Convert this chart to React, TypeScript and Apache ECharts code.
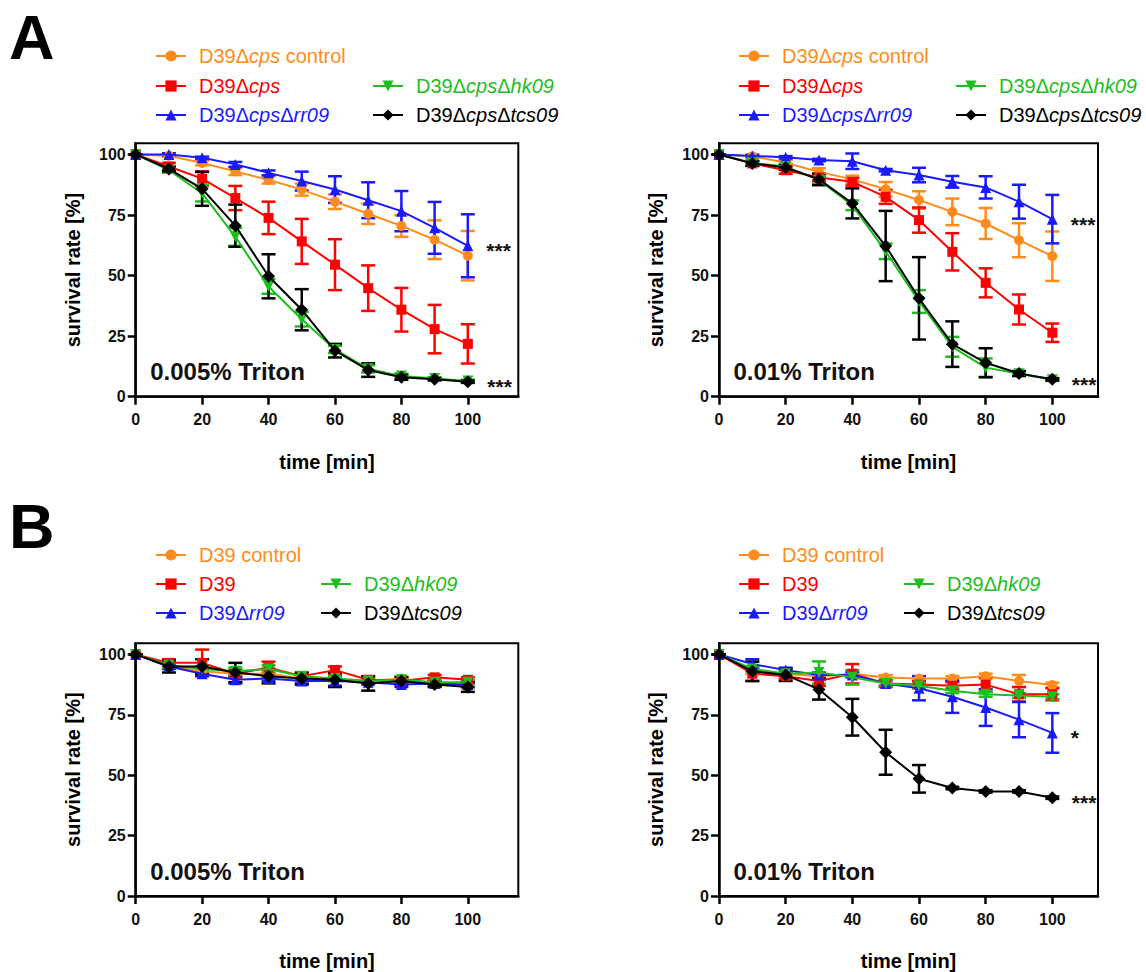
import React, { useEffect, useRef } from "react";
import * as echarts from "echarts";

const FONT = 'Arial, "Liberation Sans", Helvetica, sans-serif';

const times = [0, 10, 20, 30, 40, 50, 60, 70, 80, 90, 100];
const xTicks = [0, 20, 40, 60, 80, 100];
const yTicks = [0, 25, 50, 75, 100];

// series order: control (orange), parent (red), Δrr09 (blue), Δhk09 (green), Δtcs09 (black)
const namesA = ["D39Δcps control", "D39Δcps", "D39ΔcpsΔrr09", "D39ΔcpsΔhk09", "D39ΔcpsΔtcs09"];
const namesB = ["D39 control", "D39", "D39Δrr09", "D39Δhk09", "D39Δtcs09"];
const labelPartsA = [
  [["D39Δ", "n"], ["cps", "i"], [" control", "n"]],
  [["D39Δ", "n"], ["cps", "i"]],
  [["D39Δ", "n"], ["cps", "i"], ["Δ", "n"], ["rr09", "i"]],
  [["D39Δ", "n"], ["cps", "i"], ["Δ", "n"], ["hk09", "i"]],
  [["D39Δ", "n"], ["cps", "i"], ["Δ", "n"], ["tcs09", "i"]],
];
const labelPartsB = [
  [["D39 control", "n"]],
  [["D39", "n"]],
  [["D39Δ", "n"], ["rr09", "i"]],
  [["D39Δ", "n"], ["hk09", "i"]],
  [["D39Δ", "n"], ["tcs09", "i"]],
];
const colors = ["#FF8C1A", "#FF0000", "#1A1AFF", "#1DBE1D", "#000000"];
const symbols = ["circle", "rect", "triangle", "path://M0 0 L2 0 L1 1.732 Z", "diamond"];
const symbolSizes = [10, 10, 11, 11, 13];

// Panel A, 0.005% Triton
const a1Means = [
  [100, 99.5, 96.5, 93, 89.5, 85.5, 80.5, 75.5, 70.5, 64.8, 58.2],
  [100, 95, 90, 82, 73.8, 64.1, 54.5, 44.8, 35.9, 27.9, 21.8],
  [100, 100, 98.6, 95.9, 92.4, 89, 85.5, 81.1, 76.6, 69.7, 62.3],
  [100, 93.5, 84, 66, 45.5, 32, 19.5, 11.5, 8.5, 7.5, 6.5],
  [100, 94, 85.8, 70.6, 49.7, 35.9, 19, 11, 8, 7.2, 6.2],
];
const a1Errs = [
  [0, 0.5, 1, 1.5, 1.5, 2.5, 3, 4.2, 4.5, 8, 10.2],
  [0, 1.5, 3, 5, 6.7, 9.3, 10.5, 9.4, 9, 10, 8.1],
  [0, 0.5, 0.5, 1, 1, 3.9, 5.5, 7.4, 8.3, 10.7, 13],
  [0, 1, 3.4, 3.7, 3, 3, 1.5, 1.5, 1, 0.5, 0.5],
  [0, 1, 7, 8.7, 9.1, 8.5, 2.8, 2.8, 1, 0.5, 0.5],
];
const a1Sig = ["", "", "***", "", "***"];

// Panel A, 0.01% Triton
const a2Means = [
  [100, 99.3, 96.6, 92.8, 89.7, 85.6, 81.2, 76.3, 71.5, 64.6, 58],
  [100, 96.3, 93.5, 90.5, 88.7, 82.5, 72.9, 59.8, 47, 36, 26.4],
  [100, 99.4, 98.8, 97.7, 97.2, 93.5, 91.5, 88.7, 86.4, 80.5, 73.3],
  [100, 96.5, 95, 89.5, 79, 60, 39.3, 20.6, 12, 9.5, 7],
  [100, 96.3, 94.6, 89.7, 79.8, 62.2, 40.6, 21.7, 14, 9.6, 7.2],
];
const a2Errs = [
  [0, 0.5, 1, 1.5, 1.5, 3, 3.6, 5.5, 6.4, 7, 10.2],
  [0, 1, 1.5, 1.5, 1.5, 2.9, 5.2, 7.7, 6, 6.2, 3.8],
  [0, 0.5, 0.5, 0.5, 3.2, 0.5, 3, 2.4, 4.6, 7, 10],
  [0, 0.5, 1, 1.5, 2, 3.2, 4.7, 4.1, 3.8, 1, 0.5],
  [0, 1, 1, 2.4, 6.2, 14.5, 17, 9.4, 6, 1, 0.5],
];
const a2Sig = ["", "", "***", "", "***"];

// Panel B, 0.005% Triton
const b1Means = [
  [100, 95, 93, 92, 92, 90, 90, 89, 90, 88, 87],
  [100, 96.5, 96.5, 92, 94.5, 91, 93.5, 89.5, 89, 90.5, 89.5],
  [100, 95, 92, 89.5, 90, 89, 89, 88.5, 87.5, 88, 87.5],
  [100, 95.5, 94, 93, 94, 91, 90, 89, 89.5, 88.5, 88.5],
  [100, 95, 95, 92.5, 91, 90, 89.5, 88, 89, 87.5, 86.5],
];
const b1Errs = [
  [0, 1, 1, 1.5, 1.5, 1, 1, 1, 1, 1, 1],
  [0, 1.5, 5.5, 1.5, 2.5, 1, 1.5, 1, 1, 1, 1],
  [0, 1, 1, 1.5, 1, 1, 2, 1, 1, 1, 1],
  [0, 1, 1, 1.5, 1.5, 1, 1, 1, 1, 1, 1],
  [0, 2.5, 3, 4, 3, 2.5, 3, 3, 1.5, 1, 2],
];
const b1Sig = ["", "", "", "", ""];

// Panel B, 0.01% Triton
const b2Means = [
  [100, 93, 92, 91, 92, 90.4, 90, 90, 91, 89, 87.3],
  [100, 92, 91, 89, 92, 88, 87.5, 87, 87.5, 83.5, 83.5],
  [100, 96, 93.5, 91.5, 91.5, 88, 86, 82.5, 78, 73, 67.5],
  [100, 94, 92, 92.5, 90.5, 88, 87, 85, 83.5, 83, 82.5],
  [100, 93, 91.5, 85.5, 74, 59.5, 48.5, 44.7, 43.3, 43.3, 40.7],
];
const b2Errs = [
  [0, 1, 1, 1, 1, 1, 1, 1, 1, 2.5, 1],
  [0, 3, 1, 2, 4, 1.5, 1.5, 1.5, 3, 3, 2.5],
  [0, 2, 1, 1, 1, 1, 5, 6.7, 7.6, 7.3, 8.2],
  [0, 1, 1, 4.6, 3, 1, 1, 1, 1, 1, 1],
  [0, 4, 2.5, 4.2, 7.6, 9.3, 5.7, 0.5, 0.5, 0.5, 0.5],
];
const b2Sig = ["", "", "*", "", "***"];

const panelTitles = ["0.005% Triton", "0.01% Triton", "0.005% Triton", "0.01% Triton"];

export default function App() {
  const ref = useRef<HTMLDivElement>(null);

  useEffect(() => {
    if (!ref.current) return;
    const chart = echarts.init(ref.current, null, { renderer: "svg", width: 1146, height: 972 });

    const panels = [
      { means: a1Means, errs: a1Errs, sig: a1Sig, names: namesA, parts: labelPartsA, left: 135.7, top: 143.3, xMax: 115.2, legCols: [155, 372], legRows: [57, 87, 116] },
      { means: a2Means, errs: a2Errs, sig: a2Sig, names: namesA, parts: labelPartsA, left: 719, top: 143.3, xMax: 113.7, legCols: [738, 955], legRows: [57, 87, 116] },
      { means: b1Means, errs: b1Errs, sig: b1Sig, names: namesB, parts: labelPartsB, left: 135.7, top: 643.3, xMax: 115.2, legCols: [155, 320], legRows: [556, 585, 614] },
      { means: b2Means, errs: b2Errs, sig: b2Sig, names: namesB, parts: labelPartsB, left: 719, top: 643.3, xMax: 113.7, legCols: [738, 903], legRows: [556, 585, 614] },
    ];
    const plotW = [382.6, 379, 382.6, 379];
    const plotH = 253.4;
    const yMax = 104.6;

    const grids: any[] = [];
    const xAxes: any[] = [];
    const yAxes: any[] = [];
    const series: any[] = [];
    const legends: any[] = [];
    const graphics: any[] = [];

    const itemPos = [
      [0, 0],
      [0, 1],
      [0, 2],
      [1, 1],
      [1, 2],
    ];

    panels.forEach((p, pi) => {
      grids.push({
        left: p.left,
        top: p.top,
        width: plotW[pi],
        height: plotH,
        show: true,
        borderColor: "#000",
        borderWidth: 2,
        backgroundColor: "transparent",
      });
      xAxes.push({
        type: "value",
        gridIndex: pi,
        min: 0,
        max: p.xMax,
        name: "time [min]",
        nameLocation: "middle",
        nameGap: 55,
        nameTextStyle: { fontSize: 20, fontWeight: "bold", color: "#000", fontFamily: FONT },
        axisLine: { show: true, onZero: false, lineStyle: { color: "#000", width: 2.5 } },
        axisTick: { show: true, length: 8, lineStyle: { color: "#000", width: 2.5 }, customValues: xTicks },
        axisLabel: { fontSize: 16, fontWeight: "bold", color: "#111", margin: 15, fontFamily: FONT, customValues: xTicks },
        splitLine: { show: false },
      });
      yAxes.push({
        type: "value",
        gridIndex: pi,
        min: 0,
        max: yMax,
        name: "survival rate [%]",
        nameLocation: "middle",
        nameGap: 53,
        nameTextStyle: { fontSize: 20, fontWeight: "bold", color: "#000", fontFamily: FONT },
        axisLine: { show: true, onZero: false, lineStyle: { color: "#000", width: 2.5 } },
        axisTick: { show: true, length: 8, lineStyle: { color: "#000", width: 2.5 }, customValues: yTicks },
        axisLabel: { fontSize: 16, fontWeight: "bold", color: "#111", margin: 10, fontFamily: FONT, customValues: yTicks },
        splitLine: { show: false },
      });

      p.names.forEach((name, si) => {
        const color = colors[si];
        const mean = p.means[si];
        const err = p.errs[si];
        series.push({
          type: "custom",
          name: name + " SEM",
          xAxisIndex: pi,
          yAxisIndex: pi,
          z: 2 + si * 0.01,
          silent: true,
          data: times.map((t, i) => [t, mean[i] - err[i], mean[i] + err[i]]),
          renderItem: (params: any, api: any) => {
            const x = api.value(0);
            const lo = api.coord([x, api.value(1)]);
            const hi = api.coord([x, api.value(2)]);
            const half = 7;
            const style = { stroke: color, lineWidth: 2.5 };
            return {
              type: "group",
              children: [
                { type: "line", shape: { x1: lo[0], y1: lo[1], x2: hi[0], y2: hi[1] }, style },
                { type: "line", shape: { x1: lo[0] - half, y1: lo[1], x2: lo[0] + half, y2: lo[1] }, style },
                { type: "line", shape: { x1: hi[0] - half, y1: hi[1], x2: hi[0] + half, y2: hi[1] }, style },
              ],
            };
          },
        });
        series.push({
          type: "line",
          name,
          xAxisIndex: pi,
          yAxisIndex: pi,
          z: 3 + si * 0.01,
          symbol: symbols[si],
          symbolSize: symbolSizes[si],
          showAllSymbol: true,
          itemStyle: { color },
          lineStyle: { color, width: 2 },
          data: times.map((t, i) => {
            const item: any = { value: [t, mean[i]] };
            if (i === times.length - 1 && p.sig[si]) {
              item.label = {
                show: true,
                formatter: p.sig[si],
                position: "right",
                distance: 13,
                offset: [0, 5],
                fontSize: 21,
                fontWeight: "bold",
                color: "#111",
                fontFamily: FONT,
              };
            }
            return item;
          }),
        });
      });

      p.names.forEach((name, si) => {
        const color = colors[si];
        const [col, row] = itemPos[si];
        const parts = p.parts[si];
        legends.push({
          left: p.legCols[col],
          top: p.legRows[row] - 11,
          padding: 0,
          itemWidth: 30,
          itemHeight: 14,
          data: [name],
          formatter: () => parts.map(([txt, st]) => `{${st}|${txt}}`).join(""),
          textStyle: {
            fontSize: 20,
            fontFamily: FONT,
            color,
            padding: [0, 0, 0, 8],
            rich: {
              n: { fontSize: 20, fontFamily: FONT, color },
              i: { fontSize: 20, fontFamily: FONT, color, fontStyle: "italic" },
            },
          },
        });
      });

      graphics.push({
        type: "text",
        left: p.left + 14.5,
        top: p.top + 216,
        style: {
          text: panelTitles[pi],
          fontSize: 24,
          fontWeight: "bold",
          fill: "#111",
          fontFamily: FONT,
        },
      });
    });

    graphics.push({
      type: "text",
      left: 9,
      top: 5,
      style: { text: "A", fontSize: 63, fontWeight: "bold", fill: "#000", fontFamily: FONT },
    });
    graphics.push({
      type: "text",
      left: 9,
      top: 494,
      style: { text: "B", fontSize: 63, fontWeight: "bold", fill: "#000", fontFamily: FONT },
    });

    chart.setOption({
      animation: false,
      backgroundColor: "#fff",
      textStyle: { fontFamily: FONT },
      grid: grids,
      xAxis: xAxes,
      yAxis: yAxes,
      legend: legends,
      series,
      graphic: graphics,
    });

    return () => chart.dispose();
  }, []);

  return (
    <div
      ref={ref}
      style={{ position: "absolute", left: 0, top: 0, width: 1146, height: 972, background: "#fff" }}
    />
  );
}
